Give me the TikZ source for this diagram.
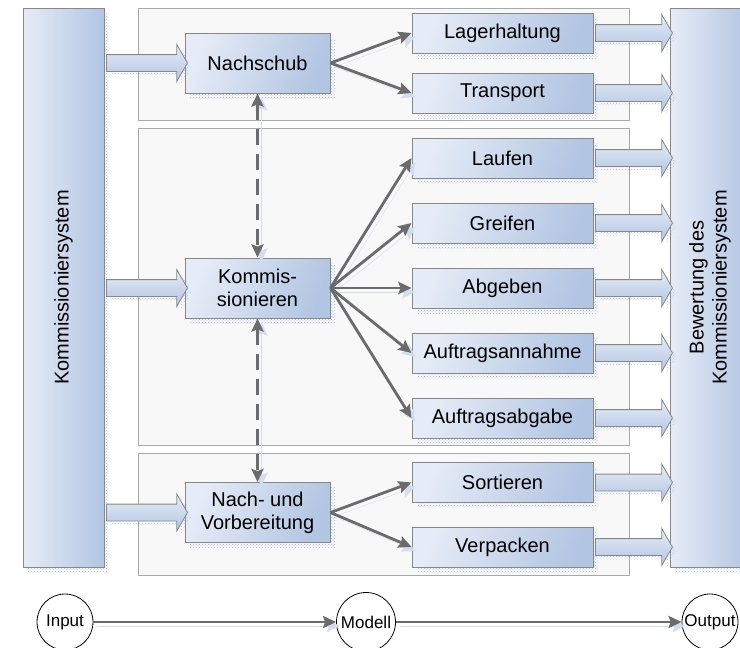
\documentclass[tikz,border=0pt]{standalone}
\usepackage{fontspec}
\setmainfont{Liberation Sans}
\usetikzlibrary{shapes.arrows,shadows,arrows.meta,patterns}

\definecolor{boxlight}{HTML}{E6ECF7}
\definecolor{boxdark}{HTML}{B2C5E2}
\definecolor{rim}{HTML}{878787}
\definecolor{panelfill}{HTML}{F8F8F8}
\definecolor{panelrim}{HTML}{A8A8A8}
\definecolor{linkgray}{HTML}{6B6B6B}
\definecolor{shadowblue}{HTML}{D2DEF0}
\definecolor{dotblue}{HTML}{9DB6DE}

\tikzset{
  bluebox/.style={draw=rim, line width=1pt, left color=boxlight, right color=boxdark, shading angle=70,
    drop shadow={shadow xshift=5pt, shadow yshift=-5pt, pattern=crosshatch dots, pattern color=dotblue, opacity=0.9},
    align=center, inner sep=0pt, font=\fontsize{20}{23}\selectfont},
  stepbox/.style={bluebox, minimum width=145pt, minimum height=60pt},
  taskbox/.style={bluebox, minimum width=181pt, minimum height=40pt},
  sidebox/.style={bluebox, shading angle=90, minimum width=81pt, minimum height=559pt},
  fatarrow/.style={single arrow, draw=rim, line width=0.8pt, top color=boxlight, bottom color=boxdark,
    minimum width=36pt, single arrow head extend=10pt, single arrow head indent=0pt, single arrow tip angle=120,
    inner xsep=0pt, inner ysep=8pt, outer sep=0pt,
    drop shadow={shadow xshift=4pt, shadow yshift=-4pt, pattern=crosshatch dots, pattern color=dotblue, opacity=0.7}},
  link/.style={draw=linkgray, line width=2.8pt, -{Stealth[length=13pt,width=12pt,inset=2pt]},
    preaction={draw=shadowblue, transform canvas={shift={(4pt,-4pt)}}}},
  dashlink/.style={link, {Stealth[length=13pt,width=12pt,inset=2pt]}-{Stealth[length=13pt,width=12pt,inset=2pt]}, dash pattern=on 16pt off 9pt},
  phase/.style={draw, circle, line width=0.8pt, minimum size=56pt, inner sep=0pt, font=\fontsize{17}{20}\selectfont}
}

\begin{document}
\begin{tikzpicture}[x=1pt,y=-1pt]
\useasboundingbox (0,0) rectangle (740,648);

% hintergrund
\draw[draw=panelrim, fill=panelfill, line width=0.8pt] (138,8) rectangle (629,120);
\draw[draw=panelrim, fill=panelfill, line width=0.8pt] (138,128) rectangle (629,445);
\draw[draw=panelrim, fill=panelfill, line width=0.8pt] (138,453) rectangle (629,575);

\node[sidebox] (ks) at (63.5,287.5) {};
\node[sidebox, minimum width=80pt] (bw) at (710,287.5) {};
\node[rotate=90, font=\fontsize{20}{23}\selectfont] at (ks) {Kommissioniersystem};
\node[rotate=90, align=center, font=\fontsize{20}{23}\selectfont] at (bw) {Bewertung des\\Kommissioniersystem};

\node[stepbox] (nach) at (257.5,63) {Nachschub};
\node[stepbox] (komm) at (257.5,288) {Kommis-\\sionieren};
\node[stepbox] (vor) at (257.5,512.5) {Nach- und\\Vorbereitung};

\node[taskbox] (lag) at (502.5,33) {Lagerhaltung};
\node[taskbox] (tra) at (502.5,93) {Transport};
\node[taskbox] (lau) at (502.5,158) {Laufen};
\node[taskbox] (gre) at (502.5,223) {Greifen};
\node[taskbox] (abg) at (502.5,288) {Abgeben};
\node[taskbox] (ann) at (502.5,353) {Auftragsannahme};
\node[taskbox] (aba) at (502.5,418) {Auftragsabgabe};
\node[taskbox] (sor) at (502.5,482.5) {Sortieren};
\node[taskbox] (ver) at (502.5,547) {Verpacken};

% eingang
\path (ks.east |- nach) -- node[fatarrow, minimum height=81pt] {} (nach.west);
\path (ks.east |- komm) -- node[fatarrow, minimum height=81pt] {} (komm.west);
\path (ks.east |- vor) -- node[fatarrow, minimum height=81pt] {} (vor.west);

% ausgang
\path (lag.east) -- node[fatarrow, minimum height=77pt] {} (lag.east -| bw.west);
\path (tra.east) -- node[fatarrow, minimum height=77pt] {} (tra.east -| bw.west);
\path (lau.east) -- node[fatarrow, minimum height=77pt] {} (lau.east -| bw.west);
\path (gre.east) -- node[fatarrow, minimum height=77pt] {} (gre.east -| bw.west);
\path (abg.east) -- node[fatarrow, minimum height=77pt] {} (abg.east -| bw.west);
\path (ann.east) -- node[fatarrow, minimum height=77pt] {} (ann.east -| bw.west);
\path (aba.east) -- node[fatarrow, minimum height=77pt] {} (aba.east -| bw.west);
\path (sor.east) -- node[fatarrow, minimum height=77pt] {} (sor.east -| bw.west);
\path (ver.east) -- node[fatarrow, minimum height=77pt] {} (ver.east -| bw.west);

\draw[link] (nach.east) -- (lag.west);
\draw[link] (nach.east) -- (tra.west);
\draw[link] (komm.east) -- (lau.west);
\draw[link] (komm.east) -- (gre.west);
\draw[link] (komm.east) -- (abg.west);
\draw[link] (komm.east) -- (ann.west);
\draw[link] (komm.east) -- (aba.west);
\draw[link] (vor.east) -- (sor.west);
\draw[link] (vor.east) -- (ver.west);

\draw[dashlink] (nach.south) -- (komm.north);
\draw[dashlink] (komm.south) -- (vor.north);

% input - modell - output
\node[phase] (inp) at (65,622) {Input};
\node[phase, minimum size=59pt] (mod) at (366,622) {Modell};
\node[phase] (out) at (710,622) {Output};
\draw[link] (inp) -- (mod);
\draw[link] (mod) -- (out);
\end{tikzpicture}
\end{document}
